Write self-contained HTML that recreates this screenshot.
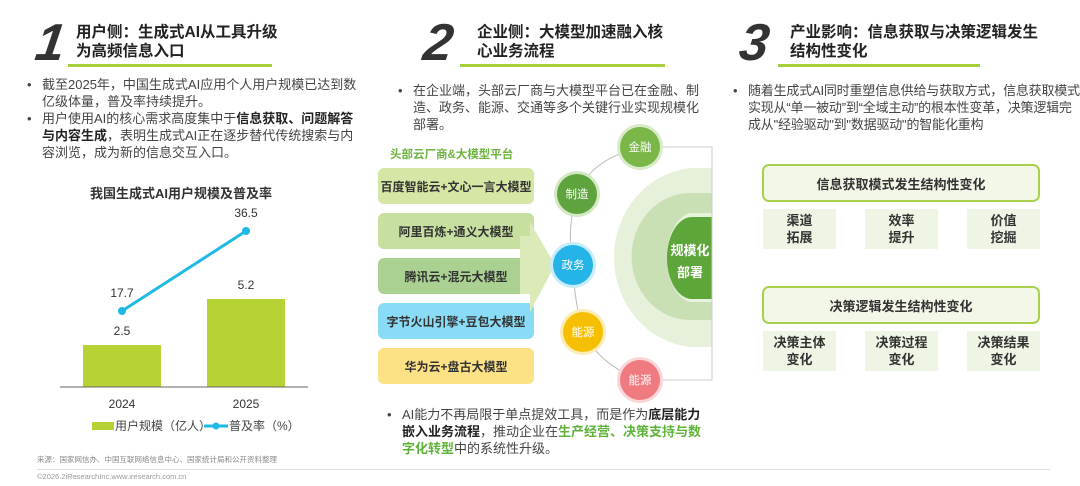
<!DOCTYPE html>
<html><head><meta charset="utf-8"><style>
*{margin:0;padding:0;box-sizing:border-box}
body{width:1080px;height:486px;background:#fff;position:relative;overflow:hidden;font-family:"Liberation Sans","Noto Sans CJK SC",sans-serif;color:#333}
.a{position:absolute}
.num{font-size:52px;font-weight:bold;font-style:italic;color:#333;line-height:50px;transform:skewX(-8deg)}
.tt{font-size:15.5px;font-weight:bold;color:#222;line-height:19px}
.ul{height:3px;background:#a7cf3a}
.bl{font-size:13px;line-height:17px;color:#444}
.bl .d{position:absolute;left:-15px}
.pb{left:378px;width:156px;height:36px;border-radius:6px;font-size:12px;font-weight:bold;color:#333;display:flex;align-items:center;justify-content:center}
.c{width:40px;height:40px;border-radius:50%;color:#fff;font-size:11.5px;display:flex;align-items:center;justify-content:center}
.hb{left:762px;width:278px;height:38px;border:2.5px solid #a9d04c;border-radius:7px;background:#f3f7e8;font-size:13px;font-weight:bold;display:flex;align-items:center;justify-content:center;color:#333}
.sb{width:73px;height:40px;background:#eff5e4;font-size:13px;font-weight:bold;text-align:center;line-height:17px;padding-top:3px;color:#333}
</style></head><body>
<!-- section 1 -->
<div class="a num" style="left:36px;top:18px">1</div>
<div class="a tt" style="left:76px;top:23px">用户侧：生成式AI从工具升级<br>为高频信息入口</div>
<div class="a ul" style="left:68px;top:64px;width:204px"></div>
<div class="a bl" style="left:42px;top:76px;width:315px"><span class="d">•</span>截至2025年，中国生成式AI应用个人用户规模已达到数亿级体量，普及率持续提升。</div>
<div class="a bl" style="left:42px;top:110px;width:315px"><span class="d">•</span>用户使用AI的核心需求高度集中于<b style="color:#222">信息获取、问题解答与内容生成</b>，表明生成式AI正在逐步替代传统搜索与内容浏览，成为新的信息交互入口。</div>
<div class="a" style="left:56px;top:183px;width:250px;text-align:center;font-size:13px;font-weight:bold;color:#333">我国生成式AI用户规模及普及率</div>
<svg class="a" style="left:0;top:0" width="370" height="486">
<rect x="83" y="345" width="78" height="42" fill="#b5d334"/>
<rect x="207" y="299" width="78" height="88" fill="#b5d334"/>
<line x1="60" y1="387" x2="308" y2="387" stroke="#666" stroke-width="1"/>
<line x1="122" y1="311" x2="246" y2="231" stroke="#1fb9e6" stroke-width="3"/>
<circle cx="122" cy="311" r="4" fill="#1fb9e6"/><circle cx="246" cy="231" r="4" fill="#1fb9e6"/>
<g font-family="Liberation Sans" font-size="12" fill="#333" text-anchor="middle">
<text x="246" y="217">36.5</text><text x="122" y="297">17.7</text><text x="122" y="335">2.5</text><text x="246" y="289">5.2</text>
<text x="122" y="408">2024</text><text x="246" y="408">2025</text></g>
<rect x="92" y="422" width="22" height="8" fill="#b5d334"/>
<text x="115" y="430" font-size="12" fill="#444" font-family="Liberation Sans,Noto Sans CJK SC">用户规模（亿人）</text>
<line x1="204" y1="426" x2="228" y2="426" stroke="#1fb9e6" stroke-width="3"/><circle cx="216" cy="426" r="3.5" fill="#1fb9e6"/>
<text x="229" y="430" font-size="12" fill="#444" font-family="Liberation Sans,Noto Sans CJK SC">普及率（%）</text>
</svg>
<div class="a" style="left:37px;top:454px;font-size:7.5px;color:#888">来源：国家网信办、中国互联网络信息中心、国家统计局和公开资料整理</div>
<div class="a" style="left:37px;top:469px;width:1013px;height:1px;background:#ddd"></div>
<div class="a" style="left:37px;top:472px;font-size:7.5px;color:#999">©2026.2iResearchInc.www.iresearch.com.cn</div>
<!-- section 2 -->
<div class="a num" style="left:424px;top:18px">2</div>
<div class="a tt" style="left:477px;top:23px">企业侧：大模型加速融入核<br>心业务流程</div>
<div class="a ul" style="left:460px;top:64px;width:205px"></div>
<div class="a bl" style="left:413px;top:82px;width:292px"><span class="d">•</span>在企业端，头部云厂商与大模型平台已在金融、制造、政务、能源、交通等多个关键行业实现规模化部署。</div>
<div class="a" style="left:390px;top:146px;font-size:11.5px;font-weight:bold;color:#6db33f">头部云厂商&amp;大模型平台</div>
<div class="a pb" style="top:168px;background:#d5e6a5">百度智能云+文心一言大模型</div>
<div class="a pb" style="top:213px;background:#c7e0a0">阿里百炼+通义大模型</div>
<div class="a pb" style="top:258px;background:#abd192">腾讯云+混元大模型</div>
<div class="a pb" style="top:303px;background:#8adcf6">字节火山引擎+豆包大模型</div>
<div class="a pb" style="top:348px;background:#fce185">华为云+盘古大模型</div>
<svg class="a" style="left:0;top:0" width="1080" height="486">
<polygon points="530,222 555,265 530,312" fill="#dbeab8"/>
<rect x="520" y="236" width="12" height="58" fill="#dbeab8"/>
<path d="M712,168 H690 A85,90 0 0 0 690,347 H712 Z" fill="#e6f0da"/>
<path d="M712,193 H690 A58,63 0 0 0 690,320 H712 Z" fill="#c9e0b5"/>
<path d="M712,213 H690 A27,45 0 0 0 690,302 H712 Z" fill="#e8f3de"/>
<path d="M712,217 H692 A25,41 0 0 0 692,299 H712 Z" fill="#5da63a"/>
<path d="M640,147 Q590,160 577,194 Q566,230 573,265 Q574,300 583,332 Q600,365 640,380" fill="none" stroke="#bbb" stroke-width="1"/>
<path d="M655,147 H712 V380 H655" fill="none" stroke="#ccc" stroke-width="1"/>
</svg>
<div class="a" style="left:668px;top:240px;color:#fff;font-size:13px;font-weight:bold;line-height:22px;text-align:center;width:44px">规模化<br>部署</div>
<div class="a c" style="left:620px;top:127px;background:#7ab648;box-shadow:0 0 0 3px #d9ebc8">金融</div>
<div class="a c" style="left:557px;top:174px;background:#5fa33f;box-shadow:0 0 0 3px #d4e8c4">制造</div>
<div class="a c" style="left:553px;top:245px;background:#25b4e8;box-shadow:0 0 0 3px #c8ecfa">政务</div>
<div class="a c" style="left:563px;top:312px;background:#f6c000;box-shadow:0 0 0 3px #fcecb5">能源</div>
<div class="a c" style="left:620px;top:360px;background:#ef7a80;box-shadow:0 0 0 3px #fbd6d8">能源</div>
<div class="a bl" style="left:402px;top:406px;width:302px"><span class="d">•</span>AI能力不再局限于单点提效工具，而是作为<b style="color:#222">底层能力嵌入业务流程</b>，推动企业在<b style="color:#5fb33a">生产经营、决策支持与数字化转型</b>中的系统性升级。</div>
<!-- section 3 -->
<div class="a num" style="left:740px;top:18px">3</div>
<div class="a tt" style="left:790px;top:23px">产业影响：信息获取与决策逻辑发生<br>结构性变化</div>
<div class="a ul" style="left:778px;top:64px;width:202px"></div>
<div class="a bl" style="left:748px;top:82px;width:332px;letter-spacing:-0.2px"><span class="d">•</span>随着生成式AI同时重塑信息供给与获取方式，信息获取模式实现从“单一被动”到“全域主动”的根本性变革，决策逻辑完成从"经验驱动"到"数据驱动"的智能化重构</div>
<div class="a hb" style="top:164px">信息获取模式发生结构性变化</div>
<div class="a sb" style="left:763px;top:209px">渠道<br>拓展</div>
<div class="a sb" style="left:865px;top:209px">效率<br>提升</div>
<div class="a sb" style="left:967px;top:209px">价值<br>挖掘</div>
<div class="a hb" style="top:286px">决策逻辑发生结构性变化</div>
<div class="a sb" style="left:763px;top:331px">决策主体<br>变化</div>
<div class="a sb" style="left:865px;top:331px">决策过程<br>变化</div>
<div class="a sb" style="left:967px;top:331px">决策结果<br>变化</div>
</body></html>
